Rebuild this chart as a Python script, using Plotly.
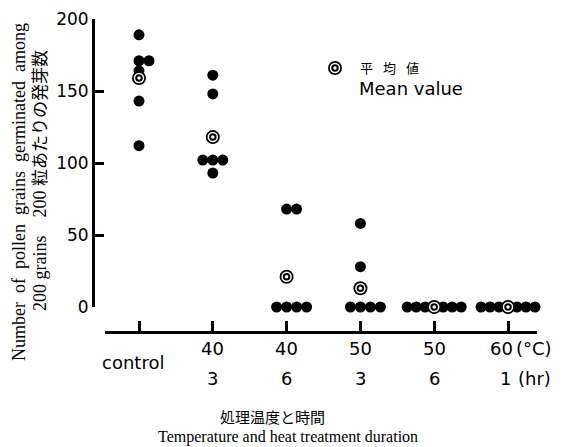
import plotly.graph_objects as go

# ---------------- data ----------------
temp_labels = ["", "40", "40", "50", "50", "60"]
duration_labels = ["", "3", "6", "3", "6", "1"]
control_label = "control"

control_counts = [189, 171, 171, 164, 143, 112]
t40_3h_counts = [161, 148, 102, 102, 102, 93]
t40_6h_counts = [68, 68, 0, 0, 0, 0]
t50_3h_counts = [58, 28, 0, 0, 0, 0]
t50_6h_counts = [0, 0, 0, 0, 0, 0]
t60_1h_counts = [0, 0, 0, 0, 0, 0]
mean_counts = [159, 118, 21, 13, 0, 0]

y_ticks = [0, 50, 100, 150, 200]

groups = [control_counts, t40_3h_counts, t40_6h_counts,
          t50_3h_counts, t50_6h_counts, t60_1h_counts]

# ---------------- layout geometry ----------------
OFF = 8               # page body margin
W, H = 564 - OFF, 447 - OFF
CAT0_PX = 139.0       # page-pixel x of first category
PX_PER_CAT = 73.8     # pixel distance between categories


def px(xp):
    return (xp - OFF) / W


def py(yp):
    return 1 - (yp - OFF) / H


def xval(xp):
    return (xp - CAT0_PX) / PX_PER_CAT


# side-by-side placement of tied values (mean joins the tie group)
dot_x, dot_y, mean_x, mean_y = [], [], [], []
for i, (vals, m) in enumerate(zip(groups, mean_counts)):
    uniq = []
    for v in vals:
        if v not in uniq:
            uniq.append(v)
    placed_mean = False
    for v in uniq:
        members = ["dot"] * vals.count(v)
        if m == v:
            members.insert(len(members) // 2, "mean")
            placed_mean = True
        n = len(members)
        spacing = 9.0 if n >= 7 else 10.0
        for k, kind in enumerate(members):
            off = (k - (n - 1) // 2) * spacing / PX_PER_CAT
            if kind == "dot":
                dot_x.append(i + off)
                dot_y.append(v)
            else:
                mean_x.append(i + off)
                mean_y.append(v)
    if not placed_mean:
        mean_x.append(i)
        mean_y.append(m)

fig = go.Figure()
# dummy trace so that the visible category axis x2 exists
fig.add_trace(go.Scatter(x=[None], y=[None], xaxis="x2", yaxis="y",
                         mode="markers", showlegend=False, hoverinfo="skip"))
fig.add_trace(go.Scatter(x=dot_x, y=dot_y, mode="markers", cliponaxis=False,
                         marker=dict(size=11, color="black", line=dict(width=0)),
                         showlegend=False, hoverinfo="skip"))
ring_layers = [(14, "black"), (10.5, "white"), (7.5, "black"), (3.5, "white")]
for size, col in ring_layers:
    fig.add_trace(go.Scatter(x=mean_x, y=mean_y, mode="markers", cliponaxis=False,
                             marker=dict(size=size, color=col, line=dict(width=0)),
                             showlegend=False, hoverinfo="skip"))

sans = "DejaVu Sans"
serif = "Liberation Serif, Times New Roman, serif"
cjk = "Noto Sans CJK JP"

ann = []
# x tick labels
for i, (t, d) in enumerate(zip(temp_labels, duration_labels)):
    shift_t = -7 if i == 5 else 0
    shift_d = -3 if i == 5 else 0
    if t:
        ann.append(dict(x=i, y=py(348), xref="x", yref="paper", text=t,
                        showarrow=False, xanchor="center", yanchor="middle",
                        xshift=shift_t, font=dict(family=sans, size=18, color="black")))
    if d:
        ann.append(dict(x=i, y=py(378), xref="x", yref="paper", text=d,
                        showarrow=False, xanchor="center", yanchor="middle",
                        xshift=shift_d, font=dict(family=sans, size=18, color="black")))
ann.append(dict(x=px(133), y=py(362), xref="paper", yref="paper", text=control_label,
                showarrow=False, xanchor="center", yanchor="middle",
                font=dict(family=sans, size=18, color="black")))
ann.append(dict(x=px(514), y=py(348), xref="paper", yref="paper", text="(°C)",
                showarrow=False, xanchor="left", yanchor="middle",
                font=dict(family=sans, size=18, color="black")))
ann.append(dict(x=px(516), y=py(378), xref="paper", yref="paper", text="(hr)",
                showarrow=False, xanchor="left", yanchor="middle",
                font=dict(family=sans, size=18, color="black")))

# axis titles
gap = " \u00a0"
ann.append(dict(x=px(19), y=py(192), xref="paper", yref="paper",
                text=gap.join(["Number", "of", "pollen", "grains", "germinated", "among"]),
                textangle=-90, showarrow=False, xanchor="center", yanchor="middle",
                font=dict(family=serif, size=18, color="black")))
ann.append(dict(x=px(40), y=py(181), xref="paper", yref="paper",
                text="200 grains" + gap + "\u00a0 200 <span style=\"font-size:17px\">粒あたりの発芽数</span>",
                textangle=-90, showarrow=False, xanchor="center", yanchor="middle",
                font=dict(family=serif + ", " + cjk, size=18, color="black")))
ann.append(dict(x=px(272), y=py(416), xref="paper", yref="paper", text="処理温度と時間",
                showarrow=False, xanchor="center", yanchor="middle",
                font=dict(family=cjk, size=15, color="black")))
ann.append(dict(x=px(288), y=py(436.5), xref="paper", yref="paper",
                text="Temperature and heat treatment duration",
                showarrow=False, xanchor="center", yanchor="middle",
                font=dict(family=serif, size=16, color="black")))

# legend text
for ch, cx in zip(["平", "均", "値"], [366, 390, 412]):
    ann.append(dict(x=px(cx), y=py(68), xref="paper", yref="paper", text=ch,
                    showarrow=False, xanchor="center", yanchor="middle",
                    font=dict(family=cjk, size=13, color="black")))
ann.append(dict(x=px(357), y=py(88), xref="paper", yref="paper", text="Mean value",
                showarrow=False, xanchor="left", yanchor="middle",
                font=dict(family=sans, size=18, color="black")))

# legend key (concentric rings, same layering as the mean markers)
shapes = []
LX, LY = 335, 68
for size, col in ring_layers:
    r = size / 2
    shapes.append(dict(type="circle", xref="paper", yref="paper",
                       x0=px(LX - r), x1=px(LX + r), y0=py(LY + r), y1=py(LY - r),
                       fillcolor=col, line=dict(width=0), layer="above"))

fig.update_layout(
    width=W, height=H,
    margin=dict(l=0, r=0, t=0, b=0, autoexpand=False),
    paper_bgcolor="white", plot_bgcolor="rgba(0,0,0,0)",
    showlegend=False,
    # data axis: its left edge carries the y axis line
    xaxis=dict(domain=[px(95), px(537)], range=[xval(95), xval(537)],
               anchor="y", visible=False, automargin=False,
               showgrid=False, zeroline=False, fixedrange=True),
    # visible category axis, same pixel scale, drawn lower down
    xaxis2=dict(domain=[px(105), px(537)], range=[xval(105), xval(537)],
                anchor="free", position=py(332), automargin=False,
                showline=True, linecolor="black", linewidth=3,
                ticks="inside", ticklen=10, tickwidth=2.5, tickcolor="black",
                tickvals=list(range(len(groups))), showticklabels=False,
                showgrid=False, zeroline=False, fixedrange=True),
    yaxis=dict(domain=[py(307), py(19)], range=[0, 200],
               anchor="x", automargin=False,
               showline=True, linecolor="black", linewidth=3,
               ticks="inside", ticklen=9, tickwidth=2.5, tickcolor="black",
               tickvals=y_ticks, ticktext=[str(v) for v in y_ticks],
               tickfont=dict(family=sans, size=17, color="black"),
               showgrid=False, zeroline=False, fixedrange=True),
    annotations=ann,
    shapes=shapes,
)

fig.write_html("out.html")
